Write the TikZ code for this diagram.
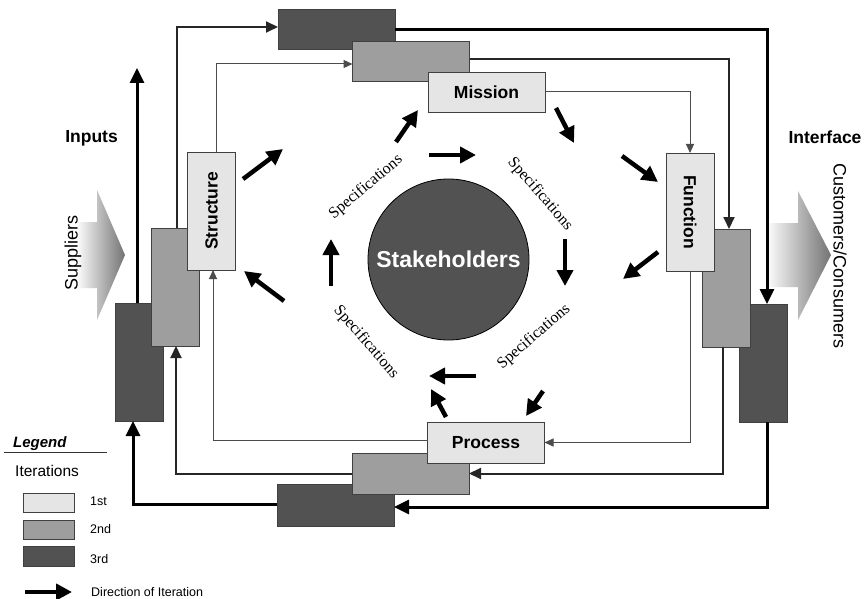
\documentclass[tikz,border=0pt]{standalone}
\usepackage{fontspec}
\usepackage{graphicx}
\setmainfont{Liberation Sans}
\newfontfamily\specfont{Liberation Serif}
\usetikzlibrary{arrows.meta,calc}

\begin{document}
\begin{tikzpicture}[x=1pt,y=-1pt,
  box/.style={draw=black!75, line width=0.8pt, inner sep=0pt, outer sep=0pt},
  it1/.style={box, fill=black!10},
  it2/.style={box, fill=black!38},
  it3/.style={box, fill=black!68},
  hbox/.style={minimum width=117, minimum height=40},
  vbox/.style={minimum width=48, minimum height=118},
  lbl/.style={font=\fontsize{17.5}{20}\selectfont\bfseries},
  side/.style={font=\fontsize{18}{20}\selectfont},
  c1/.style={draw=black!70, line width=1pt, -{Triangle[length=9pt,width=8pt]}},
  c2/.style={draw=black!85, line width=2pt, -{Triangle[length=12pt,width=11pt]}},
  c3/.style={draw=black, line width=3pt, -{Triangle[length=15pt,width=14pt]}},
  dir/.style={draw=black, line width=4.5pt, -{Triangle[length=16pt,width=16pt]}},
  spec/.style={font=\specfont\fontsize{16}{18}\selectfont, inner sep=0pt},
  leg/.style={font=\fontsize{12.5}{14}\selectfont, anchor=west, inner sep=0pt},
]
\fill[white] (0,0) rectangle (868,599);
\useasboundingbox (0,0) rectangle (868,599);

% supplier / customer flow arrows
\shade[left color=white, right color=black!55]
  (76,222) -- (97,222) -- (97,190) -- (125,255) -- (97,320) -- (97,288) -- (76,288) -- cycle;
\shade[left color=white, right color=black!55]
  (766,223) -- (798,223) -- (798,191) -- (831,255) -- (798,320) -- (798,287) -- (766,287) -- cycle;

% third iteration boxes
\node[it3, hbox] (t3) at (336.5,29) {};
\node[it3, vbox] (l3) at (139,362) {};
\node[it3, vbox] (r3) at (763,363) {};
\node[it3, hbox, minimum height=42] (b3) at (335.5,505) {};

% second iteration boxes
\node[it2, hbox] (t2) at (411,61) {};
\node[it2, vbox] (l2) at (175.5,287) {};
\node[it2, vbox] (r2) at (726.5,288) {};
\node[it2, hbox, minimum height=41] (b2) at (410.5,473.5) {};

% first iteration boxes
\node[it1, hbox, lbl] (mission) at (486.5,92) {Mission};
\node[it1, vbox, lbl] (structure) at (211.5,211) {\rotatebox{90}{Structure}};
\node[it1, vbox, lbl] (function) at (690,212) {\rotatebox{-90}{Function}};
\node[it1, hbox, minimum height=41, lbl] (process) at (486,442.5) {Process};

% first iteration loop
\draw[c1] ($(structure.north)+(5,0)$) |- ($(t2.west)+(0,3)$);
\draw[c1] (mission.east) -| (function.north);
\draw[c1] (function.south) |- (process.east);
\draw[c1] ($(process.west)+(0,-2.5)$) -| ($(structure.south)+(1.5,0)$);

% second iteration loop
\draw[c2] ($(l2.north)+(1.5,0)$) |- ($(t3.west)+(0,-2)$);
\draw[c2] ($(t2.east)+(0,-2)$) -| ($(r2.north)+(2.5,0)$);
\draw[c2] ($(r2.south)+(-3.5,0)$) |- (b2.east);
\draw[c2] (b2.west) -| ($(l2.south)+(0.5,0)$);

% third iteration loop
\coordinate (upend) at (137,68);
\draw[c3] ($(l3.north)+(-2,0)$) -- (upend);
\draw[c3] ($(t3.east)+(0,1)$) -| ($(r3.north)+(4,0)$);
\draw[c3] ($(r3.south)+(4,0)$) |- ($(b3.east)+(0,2)$);
\draw[c3] ($(b3.west)+(0,-1)$) -| ($(l3.south)+(-6,0)$);

% stakeholders core
\node[circle, draw=black, line width=0.8pt, fill=black!68, minimum size=161,
      text=white, font=\fontsize{23}{26}\selectfont\bfseries] (stake) at (448.5,259.5) {Stakeholders};

% specifications
\node[spec, rotate=40] (sp1) at (366,187) {Specifications};
\node[spec, rotate=-49] (sp2) at (540,194) {Specifications};
\node[spec, rotate=41] (sp3) at (534,337) {Specifications};
\node[spec, rotate=-49] (sp4) at (366,342) {Specifications};

% direction of iteration
\draw[dir] (243,179) -- (283,149);
\draw[dir] (396,142) -- (418,110);
\draw[dir] (429,155) -- (476,155);
\draw[dir] (556,108) -- (574,143);
\draw[dir] (622,156) -- (658,182);
\draw[dir] (565,239) -- (565,286);
\draw[dir] (658,252) -- (623,279);
\draw[dir] (543,391) -- (526,416);
\draw[dir] (476,376) -- (429,376);
\draw[dir] (446,417) -- (431,389);
\draw[dir] (331,286) -- (331,239);
\draw[dir] (284,301) -- (244,271);

% side labels
\node[lbl, anchor=base] (inputs) at (91.5,143) {Inputs};
\node[lbl, anchor=base] (interface) at (825,144) {Interface};
\node[side, rotate=90] (suppliers) at (73,253) {Suppliers};
\node[side, rotate=-90] (customers) at (840,256) {Customers/Consumers};

% legend
\node[font=\fontsize{15}{17}\selectfont\bfseries\itshape, anchor=base west, inner sep=0pt] (legend) at (13,447) {Legend};
\draw[black!80, line width=0.8pt] (4,452) -- (107,452);
\node[font=\fontsize{15.5}{17}\selectfont, anchor=west, inner sep=0pt] (iters) at (15,471) {Iterations};
\node[it1, minimum width=51, minimum height=19] (leg1) at (48.5,502.5) {};
\node[it2, minimum width=51, minimum height=19] (leg2) at (48.5,529.5) {};
\node[it3, minimum width=51, minimum height=20] (leg3) at (48.5,556) {};
\node[leg] (leg1t) at (90,501) {1st};
\node[leg] (leg2t) at (90,529) {2nd};
\node[leg] (leg3t) at (90,559) {3rd};
\coordinate (la0) at (25,592);
\coordinate (la1) at (72,592);
\draw[dir] (la0) -- (la1);
\node[leg] (legdir) at (91,592) {Direction of Iteration};
\end{tikzpicture}
\end{document}
